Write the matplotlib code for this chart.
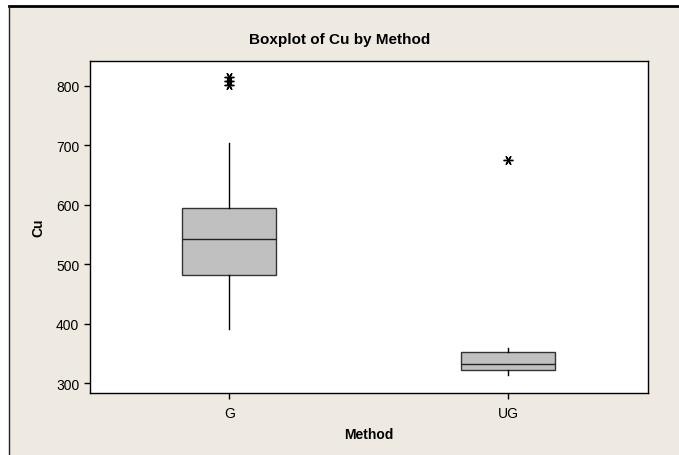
import matplotlib
matplotlib.use("Agg")
import matplotlib.pyplot as plt
from matplotlib.lines import Line2D

# Values (Cu by Method)
methods = ["G", "UG"]
q1 = [482, 322]
median = [543, 332]
q3 = [594, 352]
whisker_low = [391, 313]
whisker_high = [703, 359]
outliers = [[801, 808, 814], [675]]

yticks = [300, 400, 500, 600, 700, 800]

plt.rcParams["font.family"] = ["Liberation Sans", "DejaVu Sans"]

fig = plt.figure(figsize=(6.79, 4.56), dpi=100, facecolor="white")

# beige panel with a dark frame on top and left
bg = "#EEEAE1"
fig.patches.append(plt.Rectangle((9 / 679, -0.1), 2, 1.1 - 6.5 / 456,
                                 transform=fig.transFigure, facecolor=bg,
                                 edgecolor="none", zorder=-10))
fig.lines.append(Line2D([8.7 / 679, 1], [1 - 6.5 / 456] * 2,
                        transform=fig.transFigure, color="black", lw=2.0))
fig.lines.append(Line2D([8.7 / 679] * 2, [0, 1 - 6.5 / 456],
                        transform=fig.transFigure, color="#222222", lw=1.0))

ax = fig.add_axes([89.7 / 679, 1 - 394.3 / 456, 558 / 679, 332.3 / 456])
ax.set_facecolor("white")

stats = []
for i, m in enumerate(methods):
    stats.append({
        "label": m,
        "med": median[i],
        "q1": q1[i],
        "q3": q3[i],
        "whislo": whisker_low[i],
        "whishi": whisker_high[i],
        "fliers": outliers[i],
    })

ax.bxp(stats, positions=[1, 2], widths=0.335, showcaps=False, patch_artist=True,
       boxprops=dict(facecolor="#C0C0C0", edgecolor="#333333", lw=1.0),
       medianprops=dict(color="#222222", lw=1.0),
       whiskerprops=dict(color="black", lw=1.0),
       flierprops=dict(marker=(6, 2, 90), markersize=7, markeredgecolor="black",
                       markeredgewidth=1.0, linestyle="none"))

ax.set_xlim(0.5, 2.5)
ax.set_ylim(282.7, 841.5)
ax.set_yticks(yticks)
ax.set_xticks([1, 2])
ax.set_xticklabels(methods)
ax.tick_params(direction="out", length=4, width=1, labelsize=10, colors="black")
ax.tick_params(axis="x", pad=5)
for s in ax.spines.values():
    s.set_color("black")
    s.set_linewidth(1.0)

ax.set_xlabel("Method", fontsize=10, fontweight="bold", labelpad=5)
ax.set_ylabel("Cu", fontsize=10, fontweight="bold", labelpad=8)

fig.text(0.5, 1 - 40 / 456, "Boxplot of Cu by Method", ha="center", va="center",
         fontsize=11, fontweight="bold")

fig.savefig("out.png", dpi=100, facecolor=fig.get_facecolor())
